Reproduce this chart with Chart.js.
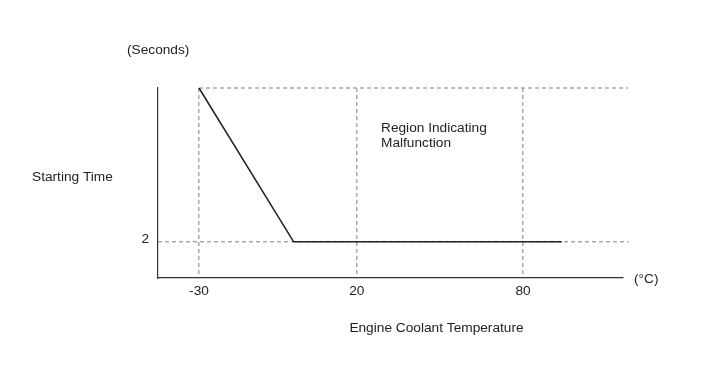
<!DOCTYPE html>
<html>
<head>
<meta charset="utf-8">
<script src="https://cdn.jsdelivr.net/npm/chart.js@4.4.1/dist/chart.umd.min.js"></script>
<style>
  html, body { margin: 0; padding: 0; background: #fff; }
  #wrap { width: 713px; height: 381px; }
</style>
</head>
<body>
<div id="wrap"><canvas id="c" width="713" height="381"></canvas></div>
<script>
// ---- data ----
const temperatures = [-30, 0, 94];          // °C (curve knots)
const startingTimes = [10.5, 2, 2];         // seconds
const xTickValues = [-30, 20, 80];
const xTickLabels = ['-30', '20', '80'];
const yTickValues = [2];
const yTickLabels = ['2'];
const refLevels = [2, 10.5];                // dashed reference levels (seconds)
const refStartX = [-43, -30];               // where each reference line starts (°C)
const refEndX = 118;                        // where reference lines end (°C)

// ---- schematic (non-uniform) temperature axis ----
const warpIn = [-30, 20, 80];
const warpOut = [-30, 20, 72.7];
function warp(v) {
  let i = 0;
  if (v > warpIn[1]) i = 1;
  const s = (warpOut[i + 1] - warpOut[i]) / (warpIn[i + 1] - warpIn[i]);
  return warpOut[i] + (v - warpIn[i]) * s;
}
function unwarp(w) {
  let i = 0;
  if (w > warpOut[1]) i = 1;
  const s = (warpIn[i + 1] - warpIn[i]) / (warpOut[i + 1] - warpOut[i]);
  return warpIn[i] + (w - warpOut[i]) * s;
}
class WarpScale extends Chart.LinearScale {
  getPixelForValue(value) { return super.getPixelForValue(warp(value)); }
  getValueForPixel(pixel) { return unwarp(super.getValueForPixel(pixel)); }
}
WarpScale.id = 'warp';
WarpScale.defaults = Chart.LinearScale.defaults;
Chart.register(WarpScale);

const FONT = '"Liberation Sans", Arial, sans-serif';
const FS = 13.7;
const TXT = '#222';

const textPlugin = {
  id: 'texts',
  afterDraw(chart) {
    const ctx = chart.ctx;
    ctx.save();
    ctx.fillStyle = TXT;
    ctx.font = FS + 'px ' + FONT;
    ctx.textBaseline = 'middle';
    ctx.textAlign = 'left';
    ctx.fillText('(Seconds)', 127, 50);
    ctx.fillText('Starting Time', 32, 177);
    ctx.fillText('Region Indicating', 381, 128);
    ctx.fillText('Malfunction', 381, 143);
    ctx.fillText('(°C)', 634, 279);
    ctx.textAlign = 'center';
    ctx.fillText('Engine Coolant Temperature', 436.5, 328);
    ctx.restore();
  }
};

const mainPts = temperatures.map((t, i) => ({ x: t, y: startingTimes[i] }));
const refSets = refLevels.map((lv, i) => ({
  data: [{ x: refStartX[i], y: lv }, { x: refEndX, y: lv }],
  borderColor: '#a8a8a8',
  borderWidth: 1.5,
  borderDash: [4, 3],
  pointRadius: 0,
  clip: false,
  order: 2
}));

new Chart(document.getElementById('c'), {
  type: 'line',
  data: {
    datasets: [
      {
        data: mainPts,
        borderColor: '#222',
        borderWidth: 1.6,
        pointRadius: 0,
        tension: 0,
        order: 1
      },
      ...refSets
    ]
  },
  options: {
    responsive: false,
    animation: false,
    events: [],
    layout: { padding: { left: 0, top: 88, right: 90, bottom: 73 } },
    plugins: { legend: { display: false }, tooltip: { enabled: false }, title: { display: false } },
    scales: {
      x: {
        type: 'warp',
        min: -43,
        max: 104.4,
        afterBuildTicks: (s) => { s.ticks = xTickValues.map(v => ({ value: v })); },
        afterFit: (s) => { s.height = 30; },
        ticks: {
          callback: (v) => xTickLabels[xTickValues.indexOf(v)] ?? '',
          color: TXT,
          font: { family: FONT, size: FS },
          padding: 5,
          maxRotation: 0,
          autoSkip: false
        },
        grid: { display: true, color: '#a8a8a8', lineWidth: 1.5, drawTicks: false },
        border: { display: true, color: '#333', width: 1.2, dash: [4, 3] }
      },
      y: {
        type: 'linear',
        min: 0,
        max: 10.5,
        afterBuildTicks: (s) => { s.ticks = yTickValues.map(v => ({ value: v })); },
        afterFit: (s) => { s.width = 158; },
        ticks: {
          callback: (v) => yTickLabels[yTickValues.indexOf(v)] ?? '',
          color: TXT,
          font: { family: FONT, size: FS },
          padding: 9,
          labelOffset: -3
        },
        grid: { display: false, drawTicks: false },
        border: { display: true, color: '#333', width: 1.2 }
      }
    }
  },
  plugins: [textPlugin]
});
</script>
</body>
</html>
